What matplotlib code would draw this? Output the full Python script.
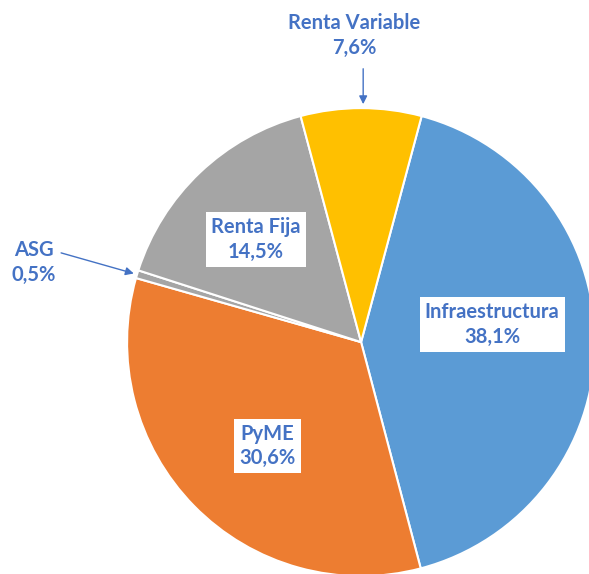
import matplotlib
matplotlib.use('Agg')
import matplotlib.pyplot as plt

# slice data (clockwise from the top right)
labels = ['Infraestructura', 'PyME', 'ASG', 'Renta Fija', 'Renta Variable']
values = [38.1, 30.6, 0.5, 14.5, 7.6]
colors = ['#5B9BD5', '#ED7D31', '#A5A5A5', '#A5A5A5', '#FFC000']
value_text = ['38,1%', '30,6%', '0,5%', '14,5%', '7,6%']

text_color = '#4472C4'
plt.rcParams['font.family'] = ['Lato', 'DejaVu Sans']

fig = plt.figure(figsize=(5.89, 5.74), dpi=100)
ax = fig.add_axes([0, 0, 1, 1])

wedges, _ = ax.pie(values, colors=colors, startangle=75, counterclock=False,
                   radius=1.0, wedgeprops=dict(edgecolor='white', linewidth=1.5))

ax.set_xlim(-1.543, 0.974)
ax.set_ylim(-0.991, 1.462)
ax.set_aspect('equal')
ax.axis('off')

font = dict(color=text_color, fontsize=14.5, fontweight='bold', ha='center', va='center',
            linespacing=1.3)
box = dict(boxstyle='square,pad=0.25', fc='white', ec='none')

# labels inside the slices
ax.text(0.56, 0.077, f'{labels[0]}\n{value_text[0]}', bbox=box, **font)
ax.text(-0.40, -0.444, f'{labels[1]}\n{value_text[1]}', bbox=box, **font)
ax.text(-0.45, 0.440, f'{labels[3]}\n{value_text[3]}', bbox=box, **font)

# callouts for the small slices
arrow = dict(arrowstyle='-|>', color=text_color, lw=1.0, mutation_scale=12)
ax.text(-0.03, 1.31, f'{labels[4]}\n{value_text[4]}', **font)
ax.annotate('', xy=(0.009, 1.005), xytext=(0.009, 1.18), arrowprops=arrow)
ax.annotate(f'{labels[2]}\n{value_text[2]}', xy=(-0.96, 0.29), xytext=(-1.40, 0.34),
            arrowprops=dict(arrow, relpos=(1.0, 0.75)), **font)

fig.savefig('out.png', dpi=100)
